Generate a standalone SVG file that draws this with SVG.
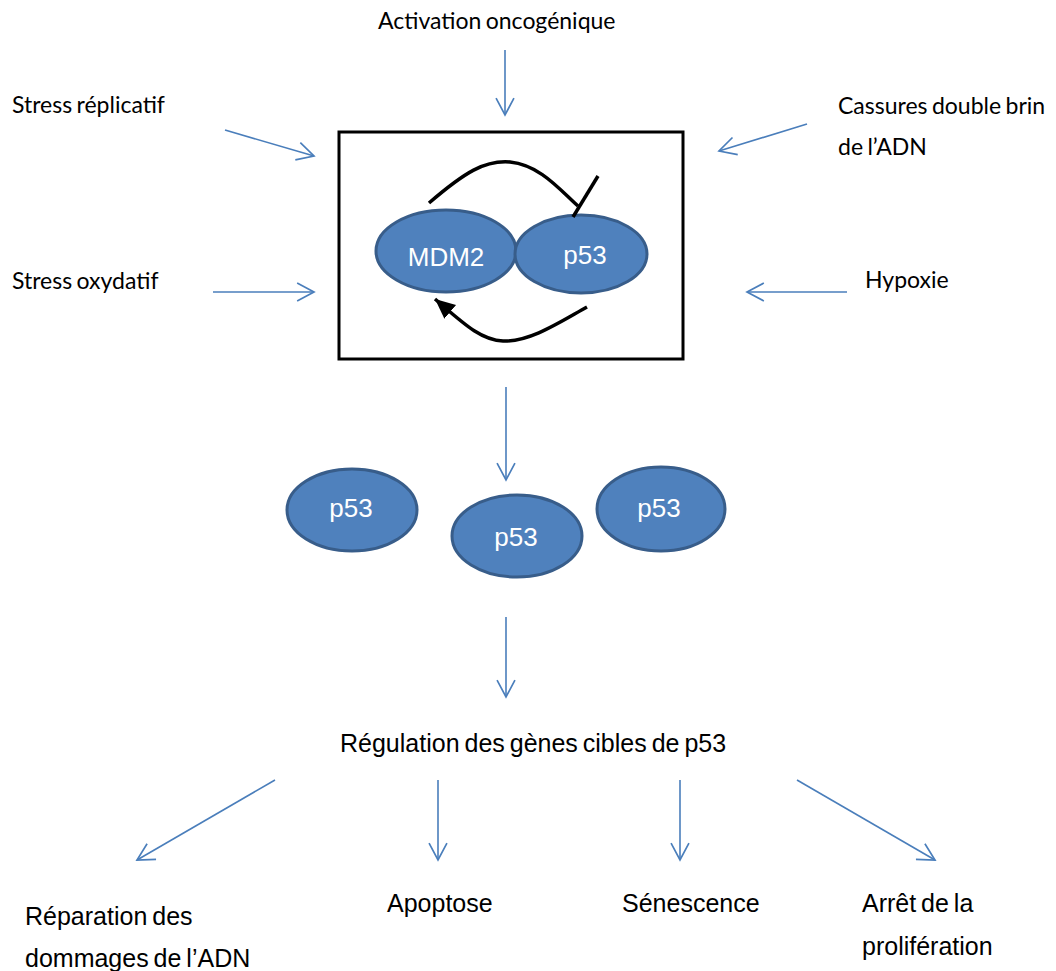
<svg xmlns="http://www.w3.org/2000/svg" width="1056" height="971" viewBox="0 0 1056 971">
<style>
.lbl{font-family:Lato,"Open Sans",sans-serif;font-size:23px;word-spacing:-1.5px;fill:#000}
.ar{font-family:"Liberation Sans",Arial,sans-serif;font-size:25px;word-spacing:-2px;fill:#000}
.nt{font-family:"Liberation Sans",Arial,sans-serif;font-size:26px;fill:#fff;text-anchor:middle}
.ell{fill:#4f81bd;stroke:#385d8a;stroke-width:3}
.bl{stroke:#4a7ebb;stroke-width:1.6;fill:none;marker-end:url(#va)}
.blk{stroke:#000;stroke-width:3.5;fill:none}
</style>
<defs>
<marker id="va" markerUnits="userSpaceOnUse" markerWidth="20" markerHeight="20" refX="16" refY="8.5" orient="auto" viewBox="-1 -1 19 19">
<path d="M0,0 L16,8.5 L0,17" fill="none" stroke="#4a7ebb" stroke-width="1.6"/>
</marker>
<marker id="ba" markerUnits="userSpaceOnUse" markerWidth="22" markerHeight="20" refX="20" refY="9" orient="auto" viewBox="0 0 22 20">
<path d="M0,0 L20,9 L0,18 z" fill="#000"/>
</marker>
</defs>
<rect id="box" x="339" y="132" width="344" height="227" fill="none" stroke="#000" stroke-width="3"/>
<g id="mdm2"><ellipse class="ell" cx="446" cy="251" rx="70" ry="41"/><text class="nt" x="446" y="266">MDM2</text></g>
<g id="p53box"><ellipse class="ell" cx="581" cy="254" rx="66" ry="39"/><text class="nt" x="585" y="264">p53</text></g>
<g id="p53a"><ellipse class="ell" cx="352" cy="510" rx="65" ry="41"/><text class="nt" x="351" y="517">p53</text></g>
<g id="p53b"><ellipse class="ell" cx="517" cy="536" rx="65" ry="41"/><text class="nt" x="516" y="546">p53</text></g>
<g id="p53c"><ellipse class="ell" cx="661" cy="509" rx="64" ry="42"/><text class="nt" x="659" y="517">p53</text></g>
<g id="labels">
<text class="lbl" x="378" y="29">Activation oncogénique</text>
<text class="lbl" x="12" y="113">Stress réplicatif</text>
<text class="lbl" x="12" y="289">Stress oxydatif</text>
<text class="lbl" x="838" y="114">Cassures double brin</text>
<text class="lbl" x="838" y="155">de l’ADN</text>
<text class="lbl" x="865" y="288">Hypoxie</text>
<text class="ar" x="340" y="752">Régulation des gènes cibles de p53</text>
<text class="ar" x="25" y="925">Réparation des</text>
<text class="ar" x="25" y="967">dommages de l’ADN</text>
<text class="ar" x="387" y="912">Apoptose</text>
<text class="ar" x="622" y="912">Sénescence</text>
<text class="ar" x="862" y="912">Arrêt de la</text>
<text class="ar" x="862" y="955">prolifération</text>
</g>
<g id="connectors">
<path class="blk" d="M429,203 C465,172 485,160 510,162 C540,165 560,190 578,206"/>
<line class="blk" x1="573" y1="217" x2="598" y2="176"/>
<path class="blk" d="M587,307 C560,322 530,342 503,341 C480,340 462,322 435,299" marker-end="url(#ba)"/>
<line class="bl" x1="505" y1="50" x2="505" y2="115"/>
<line class="bl" x1="225" y1="130" x2="314" y2="156"/>
<line class="bl" x1="213" y1="292" x2="314" y2="292"/>
<line class="bl" x1="807" y1="124" x2="719" y2="151"/>
<line class="bl" x1="847" y1="292" x2="747" y2="292"/>
<line class="bl" x1="506" y1="387" x2="506" y2="480"/>
<line class="bl" x1="506" y1="617" x2="506" y2="697"/>
<line class="bl" x1="275" y1="780" x2="137" y2="860"/>
<line class="bl" x1="438" y1="780" x2="438" y2="860"/>
<line class="bl" x1="680" y1="780" x2="680" y2="860"/>
<line class="bl" x1="797" y1="780" x2="935" y2="860"/>
</g>
</svg>
